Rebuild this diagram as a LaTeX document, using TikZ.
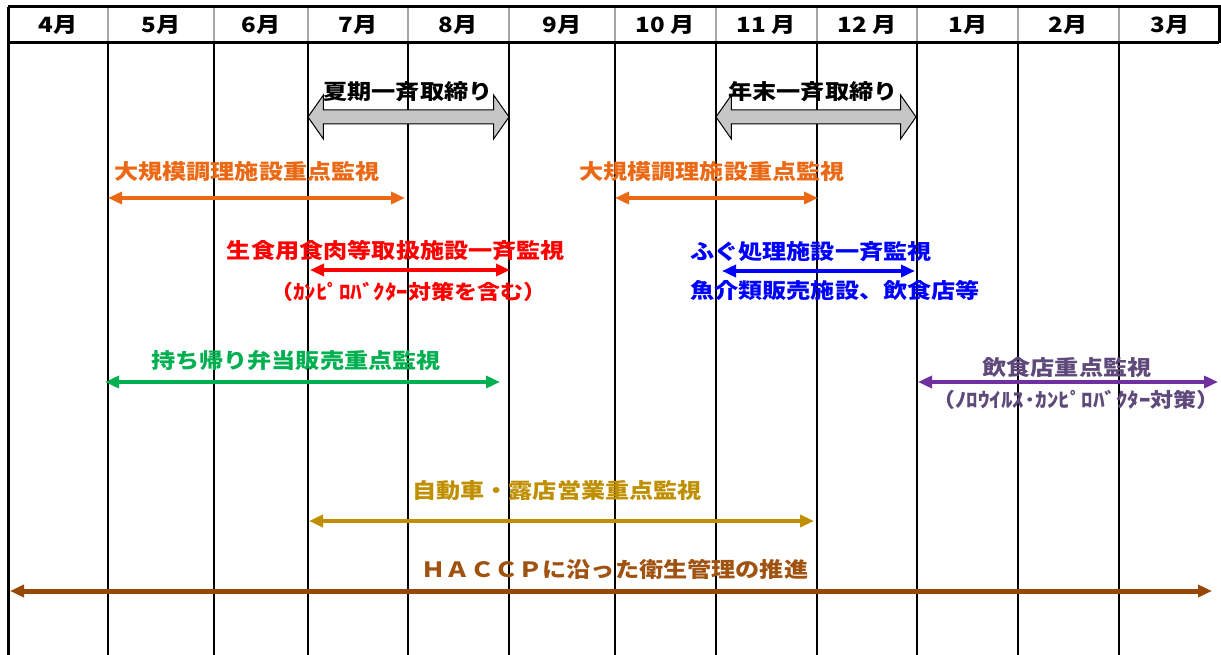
\documentclass[tikz,border=0pt]{standalone}
\usepackage{fontspec}
\setmainfont{Noto Sans CJK JP}[FakeStretch=1.15]
\usetikzlibrary{arrows.meta,shapes.arrows}

\definecolor{kaorange}{RGB}{235,105,20}
\definecolor{kagreen}{RGB}{0,176,80}
\definecolor{kapurple}{RGB}{112,48,160}
\definecolor{kapurtext}{RGB}{95,73,122}
\definecolor{kagold}{RGB}{191,143,0}
\definecolor{kabrown}{RGB}{152,72,6}
\definecolor{kabrowntext}{RGB}{160,82,16}

\tikzset{
  lbl/.style={font=\bfseries\fontsize{21}{23}\selectfont, inner sep=0pt},
  sublbl/.style={font=\bfseries\fontsize{20}{22}\selectfont, inner sep=0pt},
  span/.style={{Triangle[length=14pt,width=12pt]}-{Triangle[length=14pt,width=12pt]},
    line width=3.5pt},
  closing/.style={double arrow, draw=black, fill=gray!45, line width=1pt,
    inner xsep=0pt, inner ysep=6.5pt, double arrow head extend=15pt,
    double arrow tip angle=110, minimum height=#1}
}

\begin{document}
\begin{tikzpicture}[x=1pt,y=-1pt]
\useasboundingbox (0,0) rectangle (1221,655);

% month grid
\foreach \x in {108,214,308,408,509,615,716,817,917,1018,1119}{
  \draw[line width=2pt] (\x,43) -- (\x,655);
  \draw[line width=2pt, gray!70] (\x,7) -- (\x,43);
}
\draw[line width=3pt] (8,7) -- (1219,7) -- (1219,43);
\draw[line width=3pt] (8,43) -- (1219,43);
\draw[line width=3pt] (8,7) -- (8,655);

\foreach \m/\x [count=\i] in {4月/58,5月/161,6月/261,7月/358,8月/458,9月/562,
    10 月/665,11 月/766,12 月/867,1月/968,2月/1068,3月/1170}
  \node[lbl] (m\i) at (\x,25) {\m};

% closing periods
\node[closing=201pt] (sumarrow) at (408.5,117) {};
\node[lbl] (sum) at (408,92) {夏期一斉取締り};
\node[closing=200pt] (endarrow) at (816,117) {};
\node[lbl] (yearend) at (813,92) {年末一斉取締り};

% large kitchens
\coordinate (kl1) at (108,198);
\coordinate (kr1) at (405,198);
\draw[span, kaorange] (kl1) -- (kr1);
\node[lbl, kaorange] (kitchen1) at (247,172) {大規模調理施設重点監視};
\coordinate (kl2) at (615,198);
\coordinate (kr2) at (818,198);
\draw[span, kaorange] (kl2) -- (kr2);
\node[lbl, kaorange] (kitchen2) at (712,172) {大規模調理施設重点監視};

% raw meat
\coordinate (ml) at (310,270);
\coordinate (mr) at (510,270);
\draw[span, red] (ml) -- (mr);
\node[lbl, red] (meat) at (396,251) {生食用食肉等取扱施設一斉監視};
\node[sublbl, red] (meatsub) at (408,292) {（ｶﾝﾋﾟﾛﾊﾞｸﾀｰ対策を含む）};

% fugu
\coordinate (fl) at (722,271);
\coordinate (fr) at (915,271);
\draw[span, blue] (fl) -- (fr);
\node[lbl, blue, anchor=west] (fugu) at (690,252) {ふぐ処理施設一斉監視};
\node[lbl, blue, anchor=west] (fish) at (690,290) {魚介類販売施設、飲食店等};

% take-out
\coordinate (bl) at (105,382);
\coordinate (br) at (500,382);
\draw[span, kagreen] (bl) -- (br);
\node[lbl, kagreen] (bento) at (296,360) {持ち帰り弁当販売重点監視};

% restaurants
\coordinate (rl) at (918,382);
\coordinate (rr) at (1218,382);
\draw[span, kapurple] (rl) -- (rr);
\node[lbl, kapurtext] (rest) at (1067,367) {飲食店重点監視};
\node[sublbl, kapurtext] (restsub) at (1076,400) {（ﾉﾛｳｲﾙｽ･ｶﾝﾋﾟﾛﾊﾞｸﾀｰ対策）};

% stalls
\coordinate (cl) at (309,521);
\coordinate (cr) at (814,521);
\draw[span, kagold] (cl) -- (cr);
\node[lbl, kagold] (stall) at (557,491) {自動車・露店営業重点監視};

% HACCP
\coordinate (hl) at (10,591);
\coordinate (hr) at (1212,591);
\draw[span, kabrown, line width=5pt] (hl) -- (hr);
\node[lbl, kabrowntext] (haccp) at (615,569) {ＨＡＣＣＰに沿った衛生管理の推進};

\end{tikzpicture}
\end{document}
